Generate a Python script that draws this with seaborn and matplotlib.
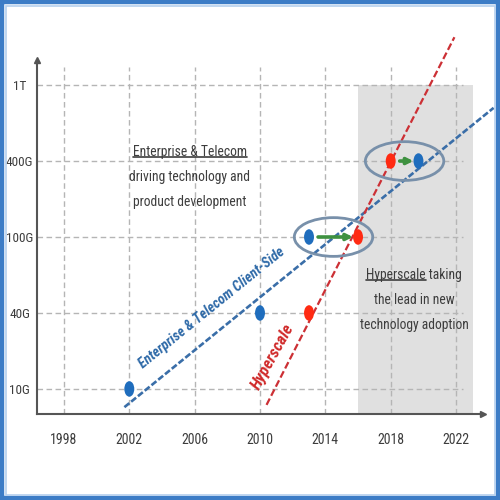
import matplotlib
matplotlib.use("Agg")
import matplotlib.pyplot as plt
from matplotlib.patches import Ellipse, Rectangle
from matplotlib.lines import Line2D
from matplotlib.path import Path
import pandas as pd
import seaborn as sns

# speed levels, bottom to top (evenly spaced on the chart)
levels = ["10G", "40G", "100G", "400G", "1T"]
year_ticks = [1998, 2002, 2006, 2010, 2014, 2018, 2022]

# Enterprise & Telecom client-side adoption
ent_years = [2002, 2010, 2013, 2019.7]
ent_speed = ["10G", "40G", "100G", "400G"]

# Hyperscale adoption
hyp_years = [2013, 2016, 2018]
hyp_speed = ["40G", "100G", "400G"]

# dashed trend lines (end points, level index units)
ent_trend_x = [2001.7, 2024.3]
ent_trend_y = [-0.24, 3.70]
hyp_trend_x = [2010.4, 2021.9]
hyp_trend_y = [-0.21, 4.63]

# shaded period where hyperscale leads
shade_years = [2016, 2023.05]

# highlighted pairs: (from year, to year, level)
pairs = [(2013, 2016, "100G"), (2018, 2019.7, "400G")]

BLUE = "#1f6dbd"
RED = "#ff2a12"
TXT = "#3d3d3d"
FS = 9.8

sns.set_style("white")
plt.rcParams["font.family"] = ["Roboto Condensed", "Liberation Sans", "DejaVu Sans"]

fig = plt.figure(figsize=(5, 5), dpi=100)
ax = fig.add_axes([0.074, 0.172, 0.892, 0.708])
ax.set_xlim(1996.35, 2023.65)
ax.set_ylim(-0.33, 4.33)

# shaded region
ax.fill_between(shade_years, -0.33, 4, color="#e0e0e0", lw=0, zorder=0)

# grid lines (dashed, not full length)
ax.vlines(year_ticks, -0.33, 4.24, colors="#b5b5b5", linestyles=(0, (4, 2.5)), lw=1, zorder=1)
ax.hlines(range(len(levels)), 1996.35, 2022.45, colors="#b5b5b5", linestyles=(0, (4, 2.5)), lw=1, zorder=1)

# trend lines
sns.lineplot(x=ent_trend_x, y=ent_trend_y, color="#3a6ea8", lw=1.9,
             linestyle=(0, (2.4, 0.9)), clip_on=False, zorder=3, ax=ax)
sns.lineplot(x=hyp_trend_x, y=hyp_trend_y, color="#cc3035", lw=1.6,
             linestyle=(0, (3.2, 1.4)), clip_on=False, zorder=3, ax=ax)

# points
pts = pd.DataFrame({
    "year": ent_years + hyp_years,
    "level": [levels.index(s) for s in ent_speed + hyp_speed],
    "group": ["Enterprise"] * len(ent_years) + ["Hyperscale"] * len(hyp_years),
})
circ = Path.unit_circle()
oval = Path(circ.vertices * [0.64, 1.0], circ.codes)
sns.scatterplot(data=pts, x="year", y="level", hue="group",
                palette={"Enterprise": BLUE, "Hyperscale": RED},
                marker=oval, s=125, linewidth=0, legend=False, zorder=6, ax=ax)

# ellipses + green arrows around the pairs
for x0, x1, lev in pairs:
    y = levels.index(lev)
    ax.add_patch(Ellipse(((x0 + x1) / 2, y), 4.8, 0.51, fill=False,
                         ec="#7890aa", lw=2, zorder=5))
    ax.annotate("", xy=(x1, y), xytext=(x0, y),
                arrowprops=dict(arrowstyle="-|>", color="#3e9140", lw=2.6,
                                mutation_scale=9, shrinkA=6.5, shrinkB=3.6),
                zorder=5)

# axes styling
for side in ["top", "right"]:
    ax.spines[side].set_visible(False)
for side in ["left", "bottom"]:
    ax.spines[side].set_color("#555555")
    ax.spines[side].set_linewidth(1.5)
ax.plot(0, 1, "^", color="#555555", ms=5, transform=ax.transAxes, clip_on=False)
ax.plot(1, 0, ">", color="#555555", ms=5, transform=ax.transAxes, clip_on=False)

ax.set_xticks(year_ticks)
ax.set_xticklabels([str(y) for y in year_ticks])
ax.set_yticks(range(len(levels)))
ax.set_yticklabels(levels)
ax.tick_params(axis="x", length=0, pad=14, labelsize=10, labelcolor=TXT)
ax.tick_params(axis="y", length=0, pad=12.5, labelsize=9.5, labelcolor=TXT)
for lab in ax.get_yticklabels():
    lab.set_horizontalalignment("center")
ax.set_xlabel("")
ax.set_ylabel("")

# annotations
t1 = ax.text(2005.7, 3.12, "Enterprise & Telecom", ha="center", va="center", fontsize=FS, color=TXT)
ax.text(2005.7, 2.79, "driving technology and", ha="center", va="center", fontsize=FS, color=TXT)
ax.text(2005.7, 2.46, "product development", ha="center", va="center", fontsize=FS, color=TXT)

t2 = ax.text(2019.43, 1.5, "Hyperscale taking", ha="center", va="center", fontsize=FS, color=TXT)
ax.text(2019.43, 1.17, "the lead in new", ha="center", va="center", fontsize=FS, color=TXT)
ax.text(2019.43, 0.84, "technology adoption", ha="center", va="center", fontsize=FS, color=TXT)

ax.text(2007.06, 1.07, "Enterprise & Telecom Client-Side", rotation=39, rotation_mode="anchor",
        ha="center", va="center", fontsize=10.2, color="#2f6aa8", fontweight="bold", fontstyle="italic")
ax.text(2010.8, 0.42, "Hyperscale", rotation=61, rotation_mode="anchor",
        ha="center", va="center", fontsize=12, color="#d02a2a", fontweight="bold", fontstyle="italic")

# underlines
fig.canvas.draw()
r = fig.canvas.get_renderer()
inv = fig.transFigure.inverted()
b1 = t1.get_window_extent(r)
b2 = t2.get_window_extent(r)
tmp = ax.text(0, 0, "Hyperscale", fontsize=FS)
w = tmp.get_window_extent(r).width
tmp.remove()
for x0, x1, yb in [(b1.x0, b1.x1, b1.y0), (b2.x0, b2.x0 + w, b2.y0)]:
    (fx0, fy), (fx1, _) = inv.transform([(x0, yb + 2), (x1, yb + 2)])
    fig.add_artist(Line2D([fx0, fx1], [fy, fy], color=TXT, lw=1.2, transform=fig.transFigure))

# picture frame
fig.add_artist(Rectangle((0.004, 0.004), 0.992, 0.992, transform=fig.transFigure,
                         fill=False, ec="#3c7cc6", lw=3.2))
fig.add_artist(Rectangle((0.011, 0.011), 0.978, 0.978, transform=fig.transFigure,
                         fill=False, ec="#b5d0ee", lw=1.2))

fig.savefig("out.png", dpi=100)
